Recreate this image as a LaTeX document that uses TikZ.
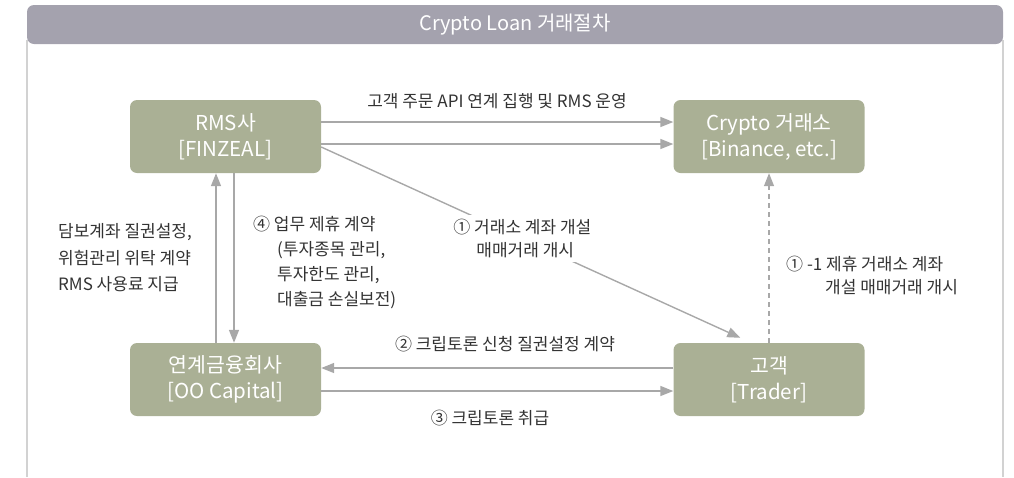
\documentclass[tikz,border=0pt]{standalone}
\usepackage{fontspec}
\setmainfont{Noto Sans CJK KR}
\usetikzlibrary{arrows.meta,calc}
\definecolor{boxfill}{HTML}{AAB095}
\definecolor{headfill}{HTML}{A4A2AE}
\definecolor{linegray}{HTML}{A8A8A8}
\definecolor{framegray}{HTML}{D2D2D2}
\definecolor{txtgray}{HTML}{333333}
\tikzset{
  entity/.style={draw=none, fill=boxfill, rounded corners=7pt, minimum width=191pt, minimum height=73pt,
    text=white, align=center, font=\fontsize{20.5}{26}\selectfont},
  conn/.style={draw=linegray, line width=1.4pt, -{Triangle[length=13pt,width=10pt]}},
  dconn/.style={conn, dash pattern=on 5pt off 4pt},
  lbl/.style={text=txtgray, font=\fontsize{17}{25}\selectfont, inner sep=0pt},
}
\begin{document}
\begin{tikzpicture}[x=1pt,y=-1pt]
\useasboundingbox (0,0) rectangle (1014,477);
% frame
\draw[framegray, line width=1.5pt] (27,40) -- (27,477) (1003,40) -- (1003,477);
\node[fill=headfill, rounded corners=7pt, minimum width=976pt, minimum height=39pt, inner sep=0pt,
  text=white, font=\fontsize{20}{22}\selectfont] (head) at (515,24.5) {Crypto Loan 거래절차};
% boxes
\node[entity] (rms) at (225.5,136.5) {RMS사\\{[FINZEAL]}};
\node[entity] (ex) at (769,136.5) {Crypto 거래소\\{[Binance, etc.]}};
\node[entity] (fin) at (225.5,379.5) {연계금융회사\\{[OO Capital]}};
\node[entity] (cu) at (769,379.5) {고객\\{[Trader]}};
% top arrows
\draw[conn] ($(rms.east)+(0,-14.5)$) -- ($(ex.west)+(0,-14.5)$);
\draw[conn] ($(rms.east)+(0,7.5)$) -- ($(ex.west)+(0,7.5)$);
\node[lbl] (ltop) at (497,101) {고객 주문 API 연계 집행 및 RMS 운영};
% diagonal
\coordinate (dstart) at ($(rms.east)+(0,10.5)$);
\coordinate (dend) at ($(cu.north west)+(67,-5)$);
\draw[conn] (dstart) -- (dend)
  node[pos=0.48, fill=white, inner sep=4pt, text=txtgray, align=left, font=\fontsize{17}{23}\selectfont] (ldiag)
  {① 거래소 계좌 개설\\\hspace*{23pt}매매거래 개시};
% dashed vertical
\draw[dconn] (cu.north) -- (ex.south);
\node[lbl, align=left, anchor=west, font=\fontsize{17}{23}\selectfont] (ldash) at (786,275)
  {① -1 제휴 거래소 계좌\\\hspace*{39pt}개설 매매거래 개시};
% vertical arrows left
\draw[conn] ($(fin.north)+(-9.5,0)$) -- ($(rms.south)+(-9.5,0)$);
\draw[conn] ($(rms.south)+(8.5,0)$) -- ($(fin.north)+(8.5,0)$);
\node[lbl, align=left, anchor=west, font=\fontsize{17}{26.5}\selectfont] (lleft) at (58,258)
  {담보계좌 질권설정,\\위험관리 위탁 계약\\RMS 사용료 지급};
\node[lbl, align=left, anchor=west, font=\fontsize{17}{25}\selectfont] (lright) at (253,262)
  {④ 업무 제휴 계약\\\hspace*{24pt}(투자종목 관리,\\\hspace*{24pt}투자한도 관리,\\\hspace*{24pt}대출금 손실보전)};
% bottom arrows
\draw[conn] ($(cu.west)+(0,-11.5)$) -- ($(fin.east)+(0,-11.5)$);
\draw[conn] ($(fin.east)+(0,11.5)$) -- ($(cu.west)+(0,11.5)$);
\node[lbl] (lb1) at (505,344) {② 크립토론 신청 질권설정 계약};
\node[lbl] (lb2) at (490,418) {③ 크립토론 취급};
\end{tikzpicture}
\end{document}
